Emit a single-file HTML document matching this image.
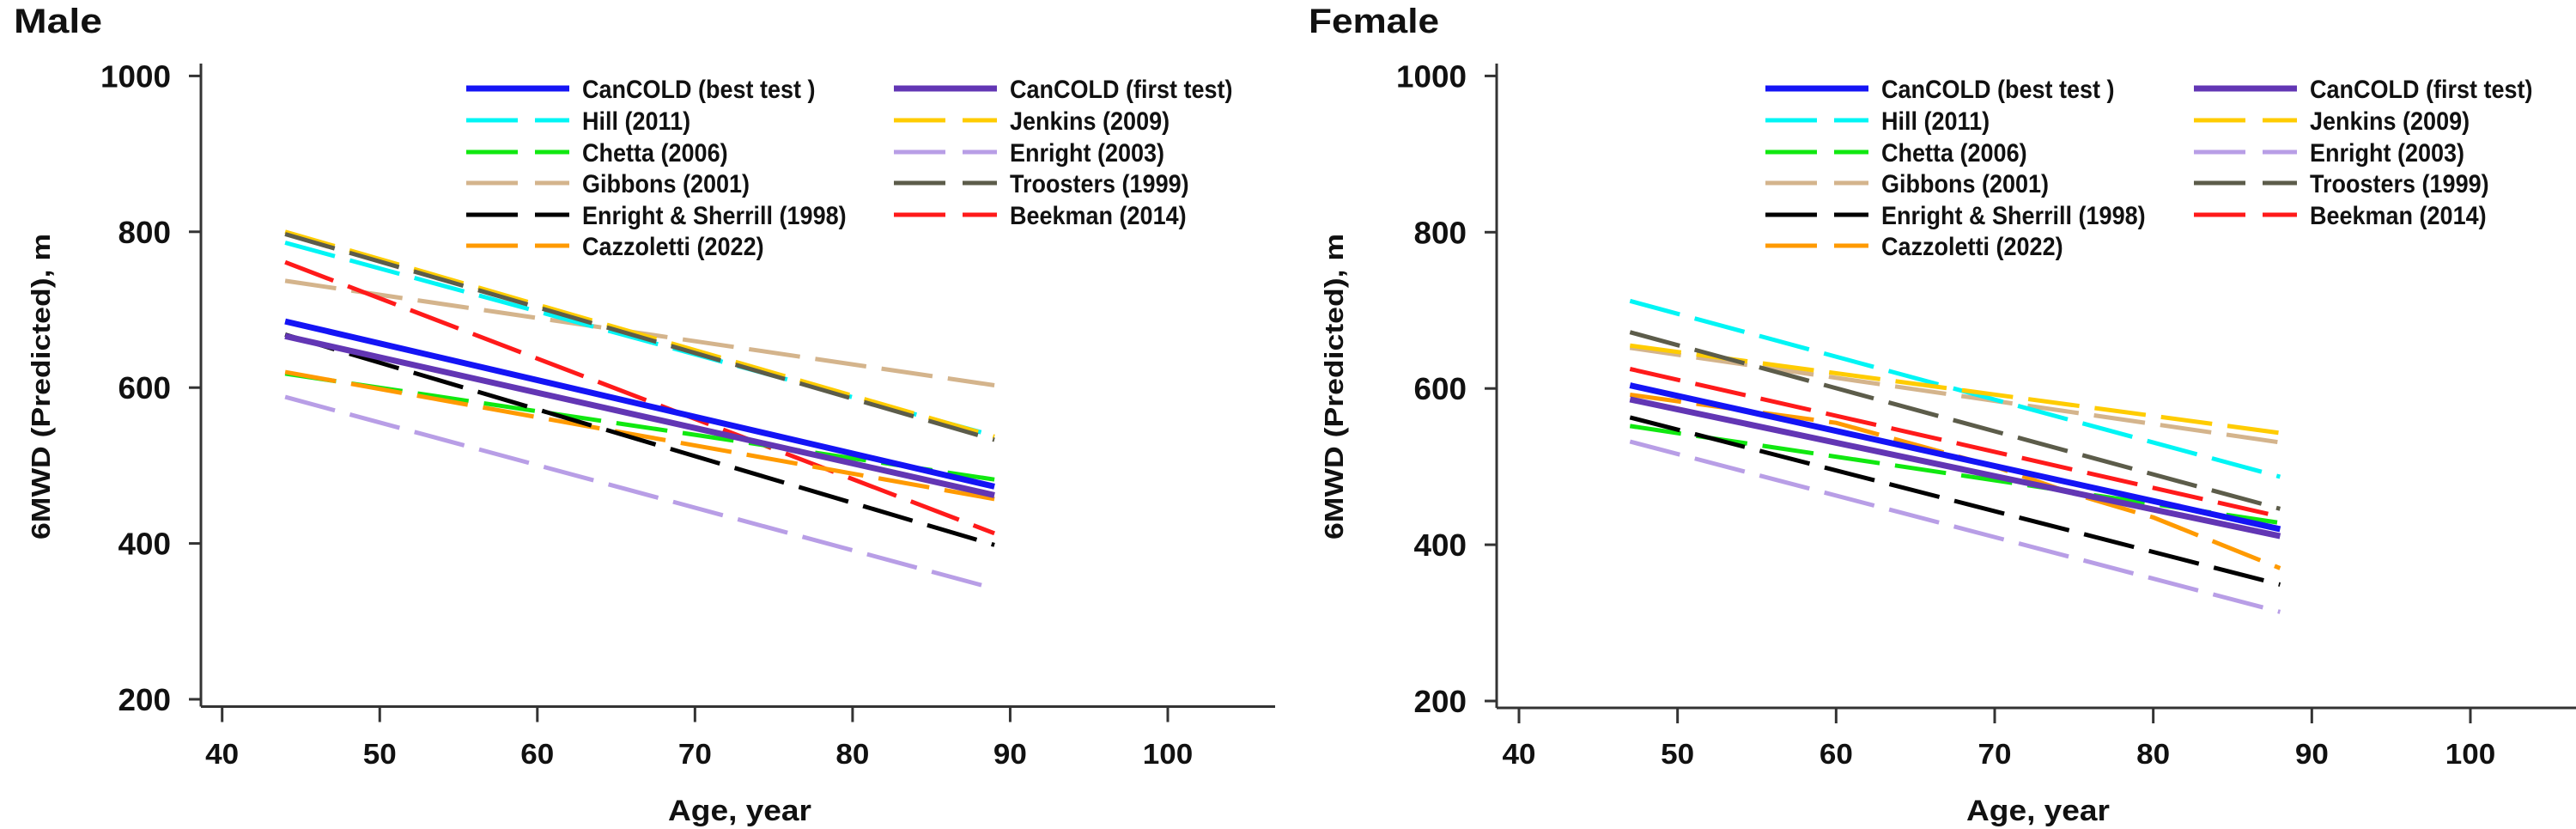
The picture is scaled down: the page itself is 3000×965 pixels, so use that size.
<!DOCTYPE html>
<html><head><meta charset="utf-8"><style>
html,body{margin:0;padding:0;background:#fff;}
svg{display:block;font-family:"Liberation Sans",sans-serif;font-weight:bold;}
</style></head><body>
<svg id="chart" width="3000" height="965" viewBox="0 0 3000 965" xmlns="http://www.w3.org/2000/svg"></svg>
<script>
const seriesNames = ["CanCOLD (best test )","CanCOLD (first test)","Hill (2011)","Jenkins (2009)","Chetta (2006)","Enright (2003)","Gibbons (2001)","Troosters (1999)","Enright & Sherrill (1998)","Beekman (2014)","Cazzoletti (2022)"];
const seriesKeys = ["cancold-best","cancold-first","hill","jenkins","chetta","enright-2003","gibbons","troosters","enright-sherrill","beekman","cazzoletti"];
const seriesColors = ["#1414f5","#6236b4","#00f5f5","#ffcc00","#10e810","#b89ee6","#d4b48c","#5c5c4a","#000000","#ff1a1a","#ff9a00"];
const seriesSolid = [true,true,false,false,false,false,false,false,false,false,false];
const xTicks = [40,50,60,70,80,90,100];
const yTicks = [200,400,600,800,1000];
// Male: ages and values per series
const maleAges = [44,89];
const maleBest = [685,473];
const maleFirst = [666,462];
const maleHill = [786,538];
const maleJenkins = [800,537];
const maleChetta = [618,482];
const maleEnright2003 = [588,342];
const maleGibbons = [737,603];
const maleTroosters = [797,533];
const maleEnrightSherrill = [668,398];
const maleBeekman = [761,413];
const maleCazzoletti = [620,457];
// Female
const femaleAges = [47,88];
const femaleBest = [604,420];
const femaleFirst = [586,411];
const femaleHill = [712,487];
const femaleJenkins = [655,543];
const femaleChetta = [552,428];
const femaleEnright2003 = [532,314];
const femaleGibbons = [652,531];
const femaleTroosters = [672,446];
const femaleEnrightSherrill = [563,349];
const femaleBeekman = [625,436];
const femaleCazzAges = [47,60,70,75,80,88];
const femaleCazzoletti = [592,556,500,465,435,370];

const NS="http://www.w3.org/2000/svg";
const svg=document.getElementById('chart');
function mk(tag,attrs,parent){const e=document.createElementNS(NS,tag);for(const k in attrs)e.setAttribute(k,attrs[k]);(parent||svg).appendChild(e);return e;}

function panel(cfg){
  const g=mk('g',{});
  
  
  const xs=v=>cfg.x40+(v-40)*(cfg.x100-cfg.x40)/60;
  const ys=v=>cfg.y200+(v-200)*(cfg.y1000-cfg.y200)/800;
  const t=mk('text',{x:cfg.titleX,y:38,'font-size':40,textLength:cfg.titleW,lengthAdjust:'spacingAndGlyphs',fill:'#111'},g);
  t.textContent=cfg.title;
  
  
  const ya=mk('line',{x1:cfg.ax,y1:74,x2:cfg.ax,y2:cfg.axY,stroke:'#333','stroke-width':3},g);
  
  
  const xa=mk('line',{x1:cfg.ax,y1:cfg.axY,x2:cfg.xEnd,y2:cfg.axY,stroke:'#333','stroke-width':3},g);
  
  
  yTicks.forEach(v=>{
    const y=ys(v);
    mk('line',{x1:cfg.ax-14,y1:y,x2:cfg.ax,y2:y,stroke:'#333','stroke-width':3},g);
    const l=mk('text',{x:cfg.ax-35,y:y+13,'font-size':36,'text-anchor':'end',fill:'#111',textLength:String(v).length*20.5,lengthAdjust:'spacingAndGlyphs'},g);
    l.textContent=v;
    
    
  });
  xTicks.forEach(v=>{
    const x=xs(v);
    mk('line',{x1:x,y1:cfg.axY,x2:x,y2:cfg.axY+18,stroke:'#333','stroke-width':3},g);
    const l=mk('text',{x:x,y:889,'font-size':33,'text-anchor':'middle',fill:'#111',textLength:String(v).length*19.5,lengthAdjust:'spacingAndGlyphs'},g);
    l.textContent=v;
    
    
  });
  const xt=mk('text',{x:(cfg.xEnd+cfg.ax)/2+2,y:955,'font-size':34,'text-anchor':'middle',fill:'#111',textLength:167,lengthAdjust:'spacingAndGlyphs'},g);
  xt.textContent='Age, year';
  
  
  const yt=mk('text',{x:0,y:0,'font-size':31,'text-anchor':'middle',fill:'#111',textLength:356,lengthAdjust:'spacingAndGlyphs',transform:`translate(${cfg.ytX},450) rotate(-90)`},g);
  yt.textContent='6MWD (Predicted), m';
  
  
  const order=[6,2,3,7,9,4,10,8,5,1,0];
  order.forEach(i=>{
    const ages=cfg.ages[i], vals=cfg.series[i];
    const pts=ages.map((a,j)=>xs(a).toFixed(1)+','+ys(vals[j]).toFixed(1)).join(' ');
    const p=mk('polyline',{points:pts,fill:'none',stroke:seriesColors[i],'stroke-width':seriesSolid[i]?7:5,'stroke-dasharray':seriesSolid[i]?'none':'60 18'},g);
    
    
  });
  const rows=[103,140,177,213,250,286];
  seriesNames.forEach((n,i)=>{
    const col=i%2,row=Math.floor(i/2);
    const sx=col?cfg.lg2:cfg.lg1, y=rows[row];
    const le=mk('g',{},g);
    
    
    mk('line',{x1:sx,y1:y,x2:sx+120,y2:y,stroke:seriesColors[i],'stroke-width':seriesSolid[i]?7:5,'stroke-dasharray':seriesSolid[i]?'none':'60 20'},le);
    const tx=mk('text',{x:sx+135,y:y+11,'font-size':30,fill:'#111'},le);
    tx.textContent=n;
    const w=tx.getComputedTextLength();
    if(w>0){tx.setAttribute('textLength',(w*0.9).toFixed(1));tx.setAttribute('lengthAdjust','spacingAndGlyphs');}
  });
}
panel({key:'male',title:'Male',titleX:16,titleW:103,ax:234,axY:822.5,xEnd:1485,x40:258.7,x100:1360,y200:814,y1000:88.4,ytX:58,lg1:543,lg2:1041,
  ages:[maleAges,maleAges,maleAges,maleAges,maleAges,maleAges,maleAges,maleAges,maleAges,maleAges,maleAges],
  series:[maleBest,maleFirst,maleHill,maleJenkins,maleChetta,maleEnright2003,maleGibbons,maleTroosters,maleEnrightSherrill,maleBeekman,maleCazzoletti]});
panel({key:'female',title:'Female',titleX:1524,titleW:152,ax:1743,axY:824,xEnd:3000,x40:1769,x100:2877,y200:816,y1000:88.4,ytX:1564,lg1:2056,lg2:2555,
  ages:[femaleAges,femaleAges,femaleAges,femaleAges,femaleAges,femaleAges,femaleAges,femaleAges,femaleAges,femaleAges,femaleCazzAges],
  series:[femaleBest,femaleFirst,femaleHill,femaleJenkins,femaleChetta,femaleEnright2003,femaleGibbons,femaleTroosters,femaleEnrightSherrill,femaleBeekman,femaleCazzoletti]});
</script>
</body></html>
